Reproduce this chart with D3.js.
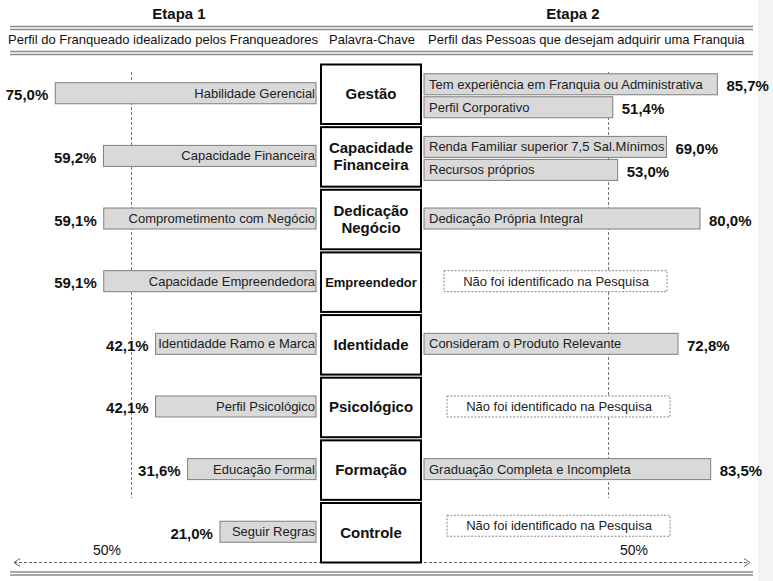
<!DOCTYPE html>
<html>
<head>
<meta charset="utf-8">
<script src="https://cdn.jsdelivr.net/npm/d3@7"></script>
<style>
  html, body { margin: 0; padding: 0; background: #fff; }
  svg { display: block; font-family: "Liberation Sans", Arial, sans-serif; }
</style>
</head>
<body>
<svg id="chart" width="773" height="581"></svg>
<script>
// ---------- DATA ----------
const categories = ["Gestão", "Capacidade\nFinanceira", "Dedicação\nNegócio", "Empreendedor",
                    "Identidade", "Psicológico", "Formação", "Controle"];
const leftLabels = ["Habilidade Gerencial", "Capacidade Financeira", "Comprometimento com Negócio",
                    "Capacidade Empreendedora", "Identidadde Ramo e Marca", "Perfil Psicológico",
                    "Educação Formal", "Seguir Regras"];
const leftValues = [75.0, 59.2, 59.1, 59.1, 42.1, 42.1, 31.6, 21.0];

const rightCategory = [0, 0, 1, 1, 2, 4, 6];
const rightLabels = ["Tem experiência em Franquia ou Administrativa", "Perfil Corporativo",
                     "Renda Familiar superior 7,5 Sal.Mínimos", "Recursos próprios",
                     "Dedicação Própria Integral", "Consideram o Produto Relevante",
                     "Graduação Completa e Incompleta"];
const rightValues = [85.7, 51.4, 69.0, 53.0, 80.0, 72.8, 83.5];

const missingCategory = [3, 5, 7];
const missingText = "Não foi identificado na Pesquisa";

const headers = ["Etapa 1", "Etapa 2"];
const subHeaders = ["Perfil do Franqueado idealizado pelos Franqueadores", "Palavra-Chave",
                    "Perfil das Pessoas que desejam adquirir uma Franquia"];
const referenceValue = 50;
const referenceLabel = "50%";

// ---------- LAYOUT ----------
const svg = d3.select("#chart");
const fmt = v => d3.format(".1f")(v).replace(".", ",") + "%";

const leftEnd = 316, rightStart = 424, boxX = 321, boxW = 100;
const len = d3.scaleLinear().domain([0, 100]).range([32, 337]);   // bar length
const xLeft = v => leftEnd - len(v);
const xRight = v => rightStart + len(v);

const y = d3.scaleBand().domain(d3.range(categories.length))
  .range([64.5, 562.5]).paddingInner(0.05).paddingOuter(0);
const cy = i => y(i) + y.bandwidth() / 2;
const barH = 21;

// right light strip
svg.append("rect").attr("x", 758).attr("y", 0).attr("width", 15).attr("height", 581).attr("fill", "#f3f3f3");

// header
svg.selectAll(".hdr").data(headers).enter().append("text")
  .attr("x", (d, i) => i === 0 ? 179 : 573).attr("y", 19)
  .attr("text-anchor", "middle").attr("font-size", 15).attr("font-weight", "bold").attr("fill", "#111")
  .text(d => d);

[26.5, 29.5, 51.5, 54.5, 572, 575].forEach(yy => {
  svg.append("line").attr("x1", 10).attr("x2", 753).attr("y1", yy).attr("y2", yy)
    .attr("stroke", "#8a8a8a").attr("stroke-width", 1.4);
});

svg.append("text").attr("x", 8).attr("y", 44).attr("font-size", 13).attr("fill", "#111").text(subHeaders[0]);
svg.append("text").attr("x", 372).attr("y", 44).attr("text-anchor", "middle").attr("font-size", 13).attr("fill", "#111").text(subHeaders[1]);
svg.append("text").attr("x", 428).attr("y", 44).attr("font-size", 13).attr("fill", "#111").text(subHeaders[2]);

// reference dashed lines (50%)
[xLeft(referenceValue), xRight(referenceValue)].forEach(xx => {
  svg.append("line").attr("x1", xx).attr("x2", xx).attr("y1", 72).attr("y2", 498)
    .attr("stroke", "#777").attr("stroke-width", 1).attr("stroke-dasharray", "3,2");
});

// left bars
const lg = svg.append("g");
leftValues.forEach((v, i) => {
  const top = cy(i) - 11.5;
  lg.append("rect").attr("x", xLeft(v)).attr("y", top).attr("width", leftEnd - xLeft(v)).attr("height", barH)
    .attr("fill", "#d9d9d9").attr("stroke", "#7f7f7f").attr("stroke-width", 1);
  lg.append("text").attr("x", leftEnd - 1).attr("y", top + barH / 2 + 4.5).attr("text-anchor", "end")
    .attr("font-size", 13).attr("fill", "#222").text(leftLabels[i]);
  lg.append("text").attr("x", xLeft(v) - 7).attr("y", top + barH / 2 + 7).attr("text-anchor", "end")
    .attr("font-size", 15).attr("font-weight", "bold").attr("fill", "#111").text(fmt(v));
});

// right bars
const rg = svg.append("g");
const counts = {};
rightCategory.forEach(c => counts[c] = (counts[c] || 0) + 1);
const seen = {};
rightValues.forEach((v, i) => {
  const c = rightCategory[i];
  const k = seen[c] = (seen[c] || 0) + 1;
  let top;
  if (counts[c] === 2) top = k === 1 ? cy(c) - 20.5 : cy(c) + 2.5;
  else top = cy(c) - 11.5;
  rg.append("rect").attr("x", rightStart).attr("y", top).attr("width", xRight(v) - rightStart).attr("height", barH)
    .attr("fill", "#d9d9d9").attr("stroke", "#7f7f7f").attr("stroke-width", 1);
  rg.append("text").attr("x", rightStart + 5).attr("y", top + barH / 2 + 4.5)
    .attr("font-size", 13).attr("fill", "#222").text(rightLabels[i]);
  rg.append("text").attr("x", xRight(v) + 9).attr("y", top + barH / 2 + 7)
    .attr("font-size", 15).attr("font-weight", "bold").attr("fill", "#111").text(fmt(v));
});

// missing boxes
missingCategory.forEach((c, j) => {
  const top = cy(c) - 11.5 - (j === missingCategory.length - 1 ? 6 : 0);
  const x0 = j === 0 ? 444 : 447;
  svg.append("rect").attr("x", x0).attr("y", top).attr("width", 223).attr("height", barH)
    .attr("fill", "#fff").attr("stroke", "#888").attr("stroke-width", 1).attr("stroke-dasharray", "2,1.5");
  svg.append("text").attr("x", x0 + 112).attr("y", top + barH / 2 + 4.5).attr("text-anchor", "middle")
    .attr("font-size", 13).attr("fill", "#222").text(missingText);
});

// bottom arrow
const ay = 562.5;
svg.append("line").attr("x1", 14).attr("x2", 750).attr("y1", ay).attr("y2", ay)
  .attr("stroke", "#666").attr("stroke-width", 1).attr("stroke-dasharray", "3,2");
svg.append("path").attr("d", `M20,${ay - 4} L14,${ay} L20,${ay + 4}`).attr("fill", "none").attr("stroke", "#666");
svg.append("path").attr("d", `M744,${ay - 4} L750,${ay} L744,${ay + 4}`).attr("fill", "none").attr("stroke", "#666");
svg.append("text").attr("x", 107).attr("y", 555).attr("text-anchor", "middle").attr("font-size", 14).attr("fill", "#111").text(referenceLabel);
svg.append("text").attr("x", 634).attr("y", 555).attr("text-anchor", "middle").attr("font-size", 14).attr("fill", "#111").text(referenceLabel);

// center boxes
categories.forEach((c, i) => {
  svg.append("rect").attr("x", boxX).attr("y", y(i)).attr("width", boxW).attr("height", y.bandwidth())
    .attr("fill", "#fff").attr("stroke", "#000").attr("stroke-width", 2);
  const lines = c.split("\n");
  const fs = c === "Empreendedor" ? 13 : 15;
  const t = svg.append("text").attr("text-anchor", "middle").attr("font-size", fs)
    .attr("font-weight", "bold").attr("fill", "#111");
  lines.forEach((ln, k) => {
    const base = cy(i) + 5 + (k - (lines.length - 1) / 2) * 17;
    t.append("tspan").attr("x", boxX + boxW / 2).attr("y", base).text(ln);
  });
});
</script>
</body>
</html>
